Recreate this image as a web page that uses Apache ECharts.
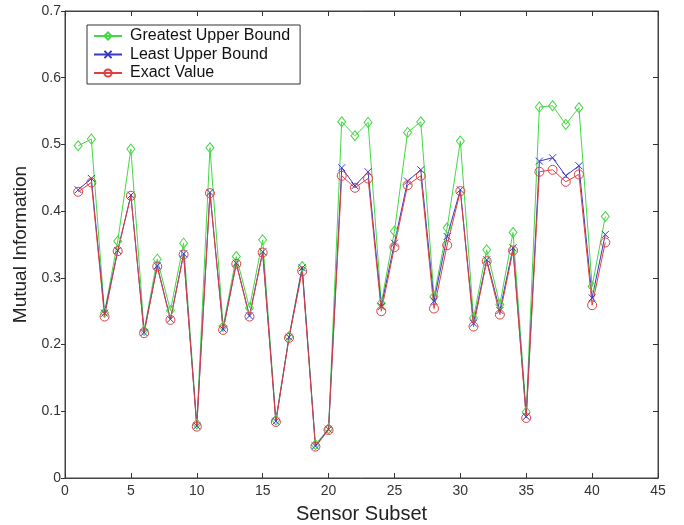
<!DOCTYPE html>
<html>
<head>
<meta charset="utf-8">
<script src="https://cdn.jsdelivr.net/npm/echarts@6/dist/echarts.min.js"></script>
<style>
  html, body { margin: 0; padding: 0; background: #fff; }
  #chart { width: 684px; height: 525px; }
</style>
</head>
<body>
<div id="chart"></div>
<script>
const subsets = [];
for (let i = 1; i <= 41; i++) subsets.push(i);

const greatestUpper = [0.498, 0.508, 0.248, 0.355, 0.493, 0.221, 0.328, 0.251, 0.352, 0.081,
  0.495, 0.227, 0.332, 0.255, 0.357, 0.087, 0.212, 0.317, 0.050, 0.074,
  0.534, 0.513, 0.533, 0.262, 0.370, 0.518, 0.534, 0.272, 0.375, 0.505,
  0.240, 0.342, 0.260, 0.368, 0.099, 0.556, 0.558, 0.530, 0.555, 0.287, 0.392];

const leastUpper = [0.432, 0.449, 0.247, 0.341, 0.424, 0.218, 0.318, 0.238, 0.336, 0.078,
  0.428, 0.223, 0.322, 0.243, 0.339, 0.085, 0.211, 0.315, 0.048, 0.073,
  0.465, 0.438, 0.459, 0.257, 0.352, 0.445, 0.462, 0.265, 0.362, 0.432,
  0.232, 0.327, 0.251, 0.345, 0.092, 0.475, 0.480, 0.453, 0.468, 0.270, 0.365];

const exactValue = [0.429, 0.443, 0.242, 0.340, 0.423, 0.217, 0.317, 0.237, 0.335, 0.077,
  0.427, 0.222, 0.321, 0.242, 0.338, 0.084, 0.210, 0.310, 0.047, 0.072,
  0.453, 0.435, 0.449, 0.250, 0.346, 0.439, 0.453, 0.254, 0.349, 0.430,
  0.227, 0.325, 0.245, 0.341, 0.090, 0.459, 0.462, 0.444, 0.455, 0.259, 0.353];

const xTicks = [0, 5, 10, 15, 20, 25, 30, 35, 40, 45];
const yTicks = [0, 0.1, 0.2, 0.3, 0.4, 0.5, 0.6, 0.7];

const GREEN = '#45d845';
const BLUE = '#3838c8';
const RED = '#e04040';
const FONT = 'Liberation Sans, Arial, sans-serif';

function pairs(vals) {
  return vals.map((v, i) => [subsets[i], v]);
}

function makeSeries(name, vals, color, symbol, size) {
  return {
    name: name,
    type: 'line',
    data: pairs(vals),
    symbol: symbol,
    symbolSize: size,
    showAllSymbol: true,
    color: color,
    lineStyle: { color: color, width: 1 },
    itemStyle: { color: 'transparent', borderColor: color, borderWidth: 1 },
    emphasis: { disabled: true },
    animation: false
  };
}

// fresh objects for every axis
function axisLine() {
  return { show: true, onZero: false, lineStyle: { color: '#444', width: 1 } };
}
function axisTick(inside, len) {
  return { show: true, inside: inside, length: len, lineStyle: { color: '#333', width: 1 } };
}

let chartDom = document.getElementById('chart');
let myChart = echarts.init(chartDom);
let option;

option = {
  backgroundColor: '#fff',
  animation: false,
  grid: {
    left: 65, right: 26, top: 11, bottom: 47,
    outerBoundsMode: 'none',
    containLabel: false,
    show: true, borderColor: '#444', borderWidth: 1, backgroundColor: 'transparent'
  },
  legend: {
    orient: 'vertical',
    left: 87,
    top: 25,
    itemWidth: 28,
    itemHeight: 9,
    itemGap: 2.5,
    padding: [3, 10, 3, 6],
    borderColor: '#333',
    borderWidth: 1,
    backgroundColor: '#fff',
    textStyle: { fontFamily: FONT, fontSize: 16, color: '#111', padding: [0, 0, 0, 3] },
    data: ['Greatest Upper Bound', 'Least Upper Bound', 'Exact Value']
  },
  xAxis: [
    {
      type: 'value', min: 0, max: 45, interval: 5,
      name: 'Sensor Subset', nameLocation: 'middle', nameGap: 26,
      nameTextStyle: { fontFamily: FONT, fontSize: 20, color: '#222' },
      axisLine: axisLine(), axisTick: axisTick(true, 5), splitLine: { show: false },
      axisLabel: {
        fontFamily: FONT, fontSize: 14, color: '#333', margin: 6,
        formatter: v => xTicks.includes(v) ? String(v) : ''
      }
    },
    {
      type: 'value', min: 0, max: 45, interval: 5, position: 'top',
      axisLine: axisLine(), axisTick: axisTick(true, 5), splitLine: { show: false },
      axisLabel: { show: false }
    }
  ],
  yAxis: [
    {
      type: 'value', min: 0, max: 0.7, interval: 0.1,
      name: 'Mutual Information', nameLocation: 'middle', nameGap: 32,
      nameTextStyle: { fontFamily: FONT, fontSize: 19, color: '#222' },
      axisLine: axisLine(), axisTick: axisTick(false, 4), splitLine: { show: false },
      axisLabel: {
        fontFamily: FONT, fontSize: 14, color: '#333', margin: 4,
        formatter: v => {
          const t = yTicks.find(y => Math.abs(y - v) < 1e-9);
          return t === undefined ? '' : (t === 0 ? '0' : t.toFixed(1));
        }
      }
    },
    {
      type: 'value', min: 0, max: 0.7, interval: 0.1, position: 'right',
      axisLine: axisLine(), axisTick: axisTick(true, 5), splitLine: { show: false },
      axisLabel: { show: false }
    }
  ],
  series: [
    makeSeries('Greatest Upper Bound', greatestUpper, GREEN, 'diamond', [8, 10]),
    makeSeries('Least Upper Bound', leastUpper, BLUE, 'path://M0,0L10,10M10,0L0,10', 7),
    makeSeries('Exact Value', exactValue, RED, 'circle', 9),
    { type: 'line', xAxisIndex: 1, yAxisIndex: 1, data: [], silent: true }
  ]
};
myChart.setOption(option);
</script>
</body>
</html>
